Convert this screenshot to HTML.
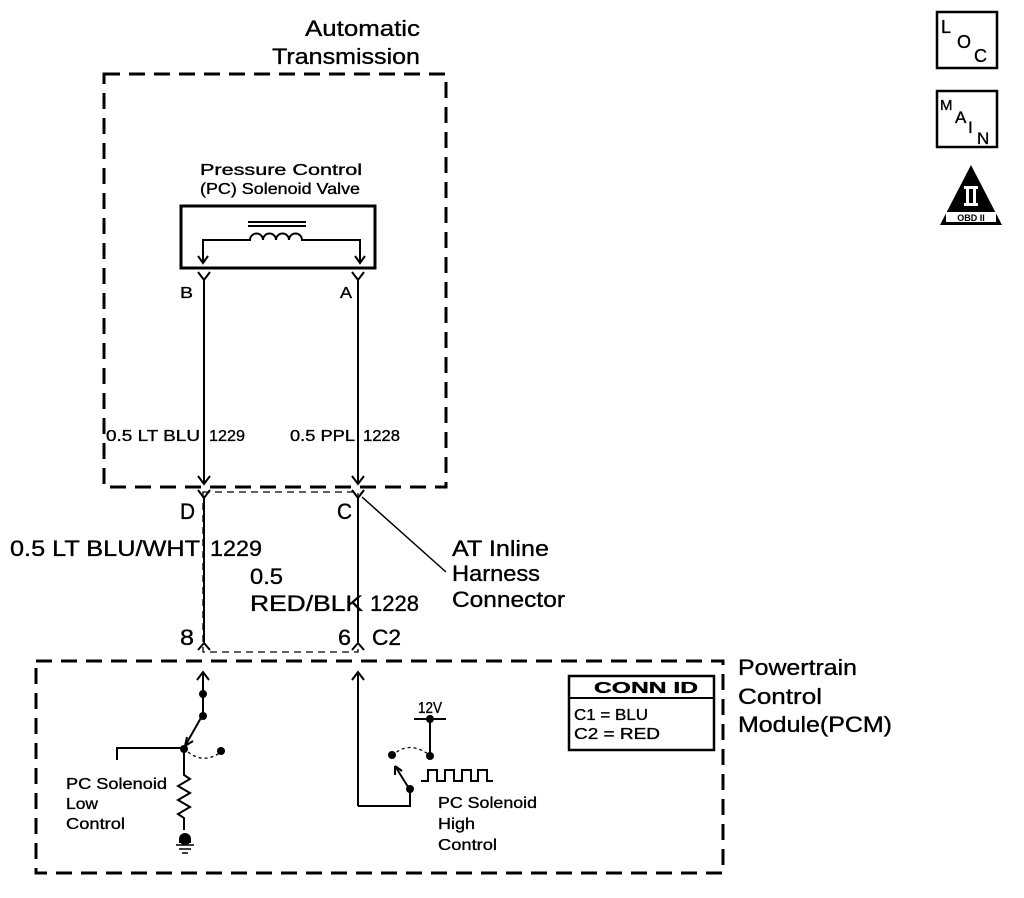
<!DOCTYPE html>
<html><head><meta charset="utf-8"><style>
html,body{margin:0;padding:0;background:#fff;}
svg{display:block;font-family:"Liberation Sans",Arial,sans-serif;}
text{fill:#000;stroke:#000;stroke-width:0.35;}
</style></head><body>
<svg width="1024" height="898" viewBox="0 0 1024 898" xmlns="http://www.w3.org/2000/svg">
<g fill="none" stroke="#000">
 <rect x="104" y="74" width="342" height="413" stroke-width="3" stroke-dasharray="16,9"/>
 <rect x="36" y="661" width="687" height="212" stroke-width="3" stroke-dasharray="16,9"/>
 <rect x="203" y="492" width="155" height="160" stroke-width="1.3" stroke-dasharray="7,5"/>
 <rect x="181" y="206" width="194" height="62" stroke-width="3"/>
 <line x1="248" y1="222" x2="306" y2="222" stroke-width="2"/>
 <line x1="248" y1="226" x2="306" y2="226" stroke-width="2"/>
 <path d="M203 262 V240 H250 a6.5 6.5 0 0 1 13 0 a6.5 6.5 0 0 1 13 0 a6.5 6.5 0 0 1 13 0 a6.5 6.5 0 0 1 13 0 H360 V262" stroke-width="2"/>
 <path d="M198 256 L203 263 L208 256 M355 256 L360 263 L365 256" stroke-width="2"/>
 <line x1="204" y1="278" x2="204" y2="484" stroke-width="2"/>
 <line x1="358" y1="278" x2="358" y2="484" stroke-width="2"/>
 <path d="M198 272 L204 280 L210 272 M352 272 L358 280 L364 272" stroke-width="2"/>
 <path d="M198 476 L204 484 L210 476 M352 476 L358 484 L364 476" stroke-width="2"/>
 <path d="M198 490 L204 498 L210 490 M352 490 L358 498 L364 490" stroke-width="2"/>
 <line x1="204" y1="498" x2="204" y2="642" stroke-width="2"/>
 <line x1="358" y1="498" x2="358" y2="642" stroke-width="2"/>
 <path d="M198 650 L204 643 L210 650 M352 650 L358 643 L364 650" stroke-width="2"/>
 <line x1="362" y1="497" x2="446" y2="572" stroke-width="1.5"/>
 <line x1="203" y1="672" x2="203" y2="718" stroke-width="2"/>
 <path d="M197 680 L203 672 L209 680" stroke-width="2"/>
 <line x1="202" y1="716" x2="185" y2="746" stroke-width="2"/>
 <path d="M185 746 L187 737 M185 746 L193 741" stroke-width="2"/>
 <path d="M117 760 V748 H184 V775 l6 4 l-12 7 l12 7 l-12 7 l12 7 l-12 7 l6 4 V830" stroke-width="2"/>
 <path d="M188 752 Q205 765 222 751" stroke-width="1.3" stroke-dasharray="3,3"/>
 <line x1="176" y1="845" x2="194" y2="845" stroke-width="1.5"/>
 <line x1="179" y1="849" x2="191" y2="849" stroke-width="1.5"/>
 <line x1="182" y1="853" x2="188" y2="853" stroke-width="1.5"/>
 <line x1="358" y1="672" x2="358" y2="806" stroke-width="2"/>
 <path d="M352 680 L358 672 L364 680" stroke-width="2"/>
 <path d="M358 806 H410 V790" stroke-width="2"/>
 <line x1="410" y1="790" x2="395" y2="766" stroke-width="2"/>
 <path d="M395 766 L395 775 M395 766 L402 771" stroke-width="2"/>
 <line x1="414" y1="719" x2="446" y2="719" stroke-width="2"/>
 <line x1="430" y1="719" x2="430" y2="755" stroke-width="2"/>
 <path d="M392 756 Q408 740 428 754" stroke-width="1.3" stroke-dasharray="3,3"/>
 <path d="M421 781 H428 V770 H437 V781 H445 V770 H454 V781 H462 V770 H471 V781 H478 V770 H487 V781 H493" stroke-width="2"/>
 <rect x="569" y="676" width="145" height="74" stroke-width="2.5"/>
 <line x1="569" y1="698" x2="714" y2="698" stroke-width="2"/>
 <rect x="937" y="12" width="60" height="56" stroke-width="2.5"/>
 <rect x="937" y="91" width="60" height="56" stroke-width="2.5"/>
</g>
<g fill="#000">
 <circle cx="203" cy="694" r="4"/><circle cx="203" cy="716" r="4"/>
 <circle cx="184" cy="749" r="4"/><circle cx="221" cy="751" r="4"/>
 <circle cx="185" cy="839" r="6"/><rect x="179" y="839" width="12" height="4"/>
 <circle cx="430" cy="719" r="4"/><circle cx="430" cy="756" r="4"/>
 <circle cx="392" cy="755" r="4"/><circle cx="410" cy="789" r="4"/>
 <polygon points="971,165 1002,225 940,225"/>
</g>
<rect x="946" y="212" width="50" height="10" fill="#fff"/>
<rect x="964" y="186" width="14" height="3" fill="#fff"/>
<rect x="964" y="203" width="14" height="3" fill="#fff"/>
<rect x="966" y="188" width="3" height="16" fill="#fff"/>
<rect x="973" y="188" width="3" height="16" fill="#fff"/>
<text x="971" y="221" font-size="9" font-weight="bold" text-anchor="middle" style="stroke-width:0">OBD II</text>
<text x="941" y="33" font-size="18">L</text><text x="957" y="48" font-size="18">O</text><text x="974" y="62" font-size="18">C</text>
<text x="940" y="110" font-size="15">M</text><text x="955" y="123" font-size="17">A</text><text x="968" y="133" font-size="17">I</text><text x="977" y="144" font-size="17">N</text>

<g font-size="22">
 <text x="305" y="36" textLength="115" lengthAdjust="spacingAndGlyphs">Automatic</text>
 <text x="272" y="64" textLength="148" lengthAdjust="spacingAndGlyphs">Transmission</text>
 <text x="180" y="519" textLength="15" lengthAdjust="spacingAndGlyphs">D</text>
 <text x="337" y="519" textLength="15" lengthAdjust="spacingAndGlyphs">C</text>
 <text x="10" y="556" textLength="190" lengthAdjust="spacingAndGlyphs">0.5 LT BLU/WHT</text>
 <text x="210" y="556" textLength="52" lengthAdjust="spacingAndGlyphs">1229</text>
 <text x="250" y="584" textLength="33" lengthAdjust="spacingAndGlyphs">0.5</text>
 <text x="250" y="611" textLength="113" lengthAdjust="spacingAndGlyphs">RED/BLK</text>
 <text x="370" y="611" textLength="49" lengthAdjust="spacingAndGlyphs">1228</text>
 <text x="452" y="556" textLength="97" lengthAdjust="spacingAndGlyphs">AT Inline</text>
 <text x="452" y="581" textLength="88" lengthAdjust="spacingAndGlyphs">Harness</text>
 <text x="452" y="607" textLength="113" lengthAdjust="spacingAndGlyphs">Connector</text>
 <text x="180" y="645" textLength="14" lengthAdjust="spacingAndGlyphs">8</text>
 <text x="338" y="645" textLength="13" lengthAdjust="spacingAndGlyphs">6</text>
 <text x="372" y="645" textLength="29" lengthAdjust="spacingAndGlyphs">C2</text>
 <text x="738" y="675" textLength="119" lengthAdjust="spacingAndGlyphs">Powertrain</text>
 <text x="738" y="704" textLength="84" lengthAdjust="spacingAndGlyphs">Control</text>
 <text x="738" y="732" textLength="154" lengthAdjust="spacingAndGlyphs">Module(PCM)</text>
</g>
<g font-size="16">
 <text x="200" y="175" textLength="162" lengthAdjust="spacingAndGlyphs">Pressure Control</text>
 <text x="200" y="194" textLength="160" lengthAdjust="spacingAndGlyphs">(PC) Solenoid Valve</text>
 <text x="180" y="298" textLength="13" lengthAdjust="spacingAndGlyphs">B</text>
 <text x="340" y="298" textLength="12" lengthAdjust="spacingAndGlyphs">A</text>
 <text x="106" y="441" textLength="94" lengthAdjust="spacingAndGlyphs">0.5 LT BLU</text>
 <text x="209" y="441" textLength="36" lengthAdjust="spacingAndGlyphs">1229</text>
 <text x="290" y="441" textLength="65" lengthAdjust="spacingAndGlyphs">0.5 PPL</text>
 <text x="363" y="441" textLength="37" lengthAdjust="spacingAndGlyphs">1228</text>
 <text x="66" y="789" textLength="101" lengthAdjust="spacingAndGlyphs">PC Solenoid</text>
 <text x="66" y="809" textLength="32" lengthAdjust="spacingAndGlyphs">Low</text>
 <text x="66" y="829" textLength="59" lengthAdjust="spacingAndGlyphs">Control</text>
 <text x="438" y="808" textLength="99" lengthAdjust="spacingAndGlyphs">PC Solenoid</text>
 <text x="438" y="829" textLength="37" lengthAdjust="spacingAndGlyphs">High</text>
 <text x="438" y="850" textLength="59" lengthAdjust="spacingAndGlyphs">Control</text>
 <text x="418" y="713" textLength="24" lengthAdjust="spacingAndGlyphs">12V</text>
 <text x="594" y="693" font-weight="bold" textLength="104" lengthAdjust="spacingAndGlyphs">CONN ID</text>
 <text x="574" y="720" textLength="74" lengthAdjust="spacingAndGlyphs">C1 = BLU</text>
 <text x="574" y="739" textLength="86" lengthAdjust="spacingAndGlyphs">C2 = RED</text>
</g>
</svg>
</body></html>
